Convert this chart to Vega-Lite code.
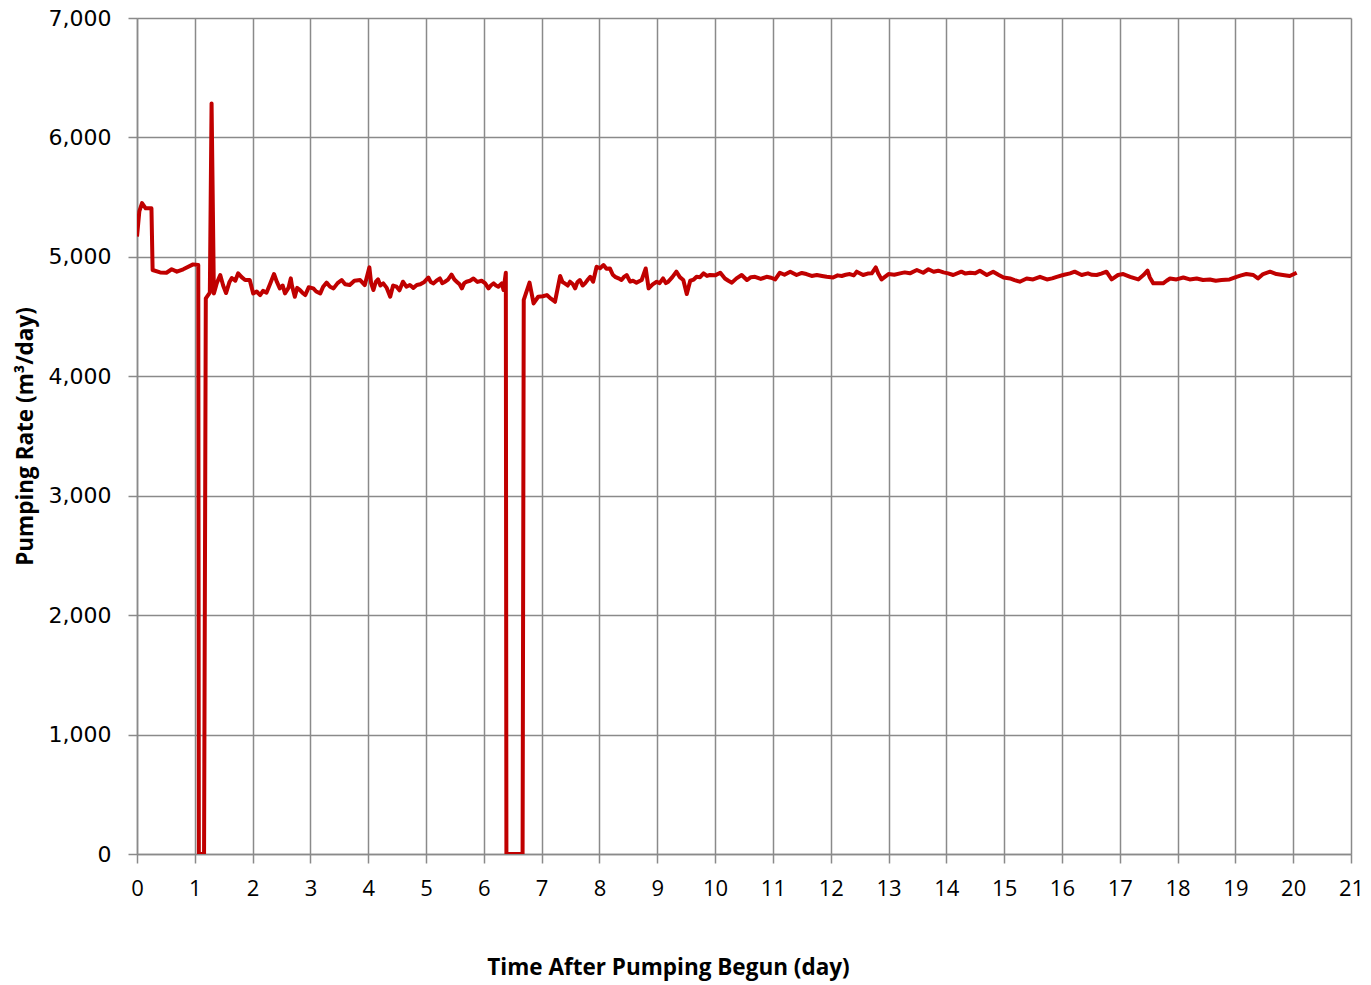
{
  "$schema": "https://vega.github.io/schema/vega-lite/v6.json",
  "autosize": "none",
  "padding": {"left": 137, "top": 18, "right": 20, "bottom": 131},
  "width": 1214,
  "height": 836,
  "background": "white",
  "config": {"view": {"stroke": null}},
  "data": {"values": [
    {"t":0,"q":5170},{"t":0.04,"q":5380},{"t":0.087,"q":5450},{"t":0.15,"q":5406},{"t":0.25,"q":5406},{"t":0.27,"q":4890},{"t":0.4,"q":4870},{"t":0.51,"q":4867},{"t":0.6,"q":4896},{"t":0.69,"q":4876},{"t":0.8,"q":4896},{"t":0.97,"q":4937},{"t":1.06,"q":4932},{"t":1.07,"q":0},{"t":1.16,"q":0},{"t":1.19,"q":4653},{"t":1.26,"q":4700},{"t":1.29,"q":6285},{"t":1.33,"q":4694},{"t":1.38,"q":4780},{"t":1.44,"q":4848},{"t":1.49,"q":4760},{"t":1.54,"q":4697},{"t":1.6,"q":4790},{"t":1.64,"q":4823},{"t":1.7,"q":4800},{"t":1.75,"q":4862},{"t":1.81,"q":4830},{"t":1.87,"q":4806},{"t":1.95,"q":4806},{"t":2.01,"q":4694},{"t":2.07,"q":4710},{"t":2.13,"q":4680},{"t":2.18,"q":4715},{"t":2.24,"q":4700},{"t":2.3,"q":4770},{"t":2.37,"q":4856},{"t":2.42,"q":4790},{"t":2.47,"q":4736},{"t":2.52,"q":4760},{"t":2.56,"q":4694},{"t":2.62,"q":4740},{"t":2.66,"q":4820},{"t":2.68,"q":4760},{"t":2.73,"q":4666},{"t":2.77,"q":4740},{"t":2.82,"q":4722},{"t":2.86,"q":4700},{"t":2.91,"q":4680},{"t":2.97,"q":4745},{"t":3.05,"q":4736},{"t":3.1,"q":4710},{"t":3.17,"q":4694},{"t":3.22,"q":4750},{"t":3.28,"q":4784},{"t":3.34,"q":4750},{"t":3.4,"q":4736},{"t":3.47,"q":4780},{"t":3.54,"q":4806},{"t":3.6,"q":4770},{"t":3.68,"q":4764},{"t":3.76,"q":4800},{"t":3.86,"q":4806},{"t":3.94,"q":4764},{"t":4.02,"q":4912},{"t":4.05,"q":4780},{"t":4.09,"q":4722},{"t":4.13,"q":4790},{"t":4.17,"q":4811},{"t":4.21,"q":4760},{"t":4.26,"q":4778},{"t":4.32,"q":4740},{"t":4.38,"q":4666},{"t":4.43,"q":4760},{"t":4.49,"q":4750},{"t":4.54,"q":4720},{"t":4.6,"q":4792},{"t":4.66,"q":4750},{"t":4.72,"q":4764},{"t":4.78,"q":4740},{"t":4.84,"q":4764},{"t":4.9,"q":4770},{"t":4.97,"q":4790},{"t":5.04,"q":4827},{"t":5.08,"q":4790},{"t":5.13,"q":4778},{"t":5.18,"q":4800},{"t":5.24,"q":4819},{"t":5.28,"q":4780},{"t":5.33,"q":4792},{"t":5.38,"q":4810},{"t":5.44,"q":4852},{"t":5.49,"q":4810},{"t":5.53,"q":4792},{"t":5.58,"q":4770},{"t":5.62,"q":4736},{"t":5.66,"q":4780},{"t":5.7,"q":4792},{"t":5.76,"q":4800},{"t":5.82,"q":4819},{"t":5.89,"q":4790},{"t":5.96,"q":4800},{"t":6.02,"q":4780},{"t":6.08,"q":4736},{"t":6.12,"q":4760},{"t":6.17,"q":4778},{"t":6.21,"q":4760},{"t":6.25,"q":4750},{"t":6.31,"q":4778},{"t":6.34,"q":4722},{"t":6.38,"q":4867},{"t":6.39,"q":0},{"t":6.67,"q":0},{"t":6.69,"q":4639},{"t":6.79,"q":4784},{"t":6.86,"q":4610},{"t":6.94,"q":4666},{"t":7.02,"q":4670},{"t":7.09,"q":4680},{"t":7.16,"q":4650},{"t":7.23,"q":4624},{"t":7.32,"q":4840},{"t":7.36,"q":4790},{"t":7.4,"q":4778},{"t":7.45,"q":4760},{"t":7.49,"q":4792},{"t":7.54,"q":4770},{"t":7.58,"q":4736},{"t":7.62,"q":4790},{"t":7.66,"q":4806},{"t":7.71,"q":4760},{"t":7.75,"q":4778},{"t":7.8,"q":4810},{"t":7.84,"q":4833},{"t":7.89,"q":4792},{"t":7.95,"q":4917},{"t":8.01,"q":4905},{"t":8.07,"q":4931},{"t":8.12,"q":4900},{"t":8.18,"q":4903},{"t":8.23,"q":4850},{"t":8.27,"q":4833},{"t":8.33,"q":4820},{"t":8.38,"q":4806},{"t":8.42,"q":4830},{"t":8.47,"q":4848},{"t":8.53,"q":4792},{"t":8.58,"q":4800},{"t":8.64,"q":4784},{"t":8.73,"q":4806},{"t":8.8,"q":4903},{"t":8.85,"q":4736},{"t":8.92,"q":4770},{"t":8.99,"q":4792},{"t":9.04,"q":4780},{"t":9.1,"q":4819},{"t":9.15,"q":4780},{"t":9.19,"q":4792},{"t":9.26,"q":4830},{"t":9.33,"q":4876},{"t":9.39,"q":4830},{"t":9.45,"q":4806},{"t":9.51,"q":4689},{"t":9.57,"q":4800},{"t":9.63,"q":4810},{"t":9.68,"q":4833},{"t":9.74,"q":4830},{"t":9.8,"q":4862},{"t":9.86,"q":4840},{"t":9.91,"q":4848},{"t":10.0,"q":4845},{"t":10.09,"q":4867},{"t":10.17,"q":4819},{"t":10.23,"q":4800},{"t":10.29,"q":4784},{"t":10.37,"q":4820},{"t":10.46,"q":4848},{"t":10.55,"q":4806},{"t":10.62,"q":4830},{"t":10.69,"q":4833},{"t":10.79,"q":4815},{"t":10.89,"q":4833},{"t":10.97,"q":4825},{"t":11.04,"q":4811},{"t":11.12,"q":4867},{"t":11.2,"q":4850},{"t":11.3,"q":4876},{"t":11.41,"q":4848},{"t":11.5,"q":4865},{"t":11.58,"q":4856},{"t":11.67,"q":4840},{"t":11.76,"q":4848},{"t":11.85,"q":4840},{"t":11.93,"q":4833},{"t":12.04,"q":4827},{"t":12.12,"q":4845},{"t":12.19,"q":4840},{"t":12.26,"q":4850},{"t":12.33,"q":4856},{"t":12.4,"q":4845},{"t":12.45,"q":4876},{"t":12.56,"q":4848},{"t":12.64,"q":4860},{"t":12.71,"q":4862},{"t":12.78,"q":4912},{"t":12.82,"q":4862},{"t":12.88,"q":4811},{"t":13.0,"q":4856},{"t":13.1,"q":4850},{"t":13.2,"q":4862},{"t":13.28,"q":4870},{"t":13.37,"q":4862},{"t":13.49,"q":4890},{"t":13.6,"q":4867},{"t":13.69,"q":4896},{"t":13.78,"q":4875},{"t":13.86,"q":4884},{"t":13.95,"q":4870},{"t":14.03,"q":4862},{"t":14.12,"q":4848},{"t":14.26,"q":4876},{"t":14.33,"q":4860},{"t":14.41,"q":4867},{"t":14.5,"q":4862},{"t":14.58,"q":4884},{"t":14.7,"q":4848},{"t":14.81,"q":4876},{"t":14.9,"q":4850},{"t":14.99,"q":4827},{"t":15.1,"q":4819},{"t":15.18,"q":4805},{"t":15.27,"q":4792},{"t":15.39,"q":4819},{"t":15.5,"q":4811},{"t":15.62,"q":4833},{"t":15.74,"q":4811},{"t":15.83,"q":4820},{"t":15.91,"q":4833},{"t":16.02,"q":4848},{"t":16.14,"q":4862},{"t":16.22,"q":4876},{"t":16.34,"q":4848},{"t":16.45,"q":4862},{"t":16.52,"q":4850},{"t":16.6,"q":4848},{"t":16.68,"q":4860},{"t":16.77,"q":4876},{"t":16.86,"q":4811},{"t":16.97,"q":4848},{"t":17.06,"q":4856},{"t":17.18,"q":4833},{"t":17.32,"q":4811},{"t":17.41,"q":4848},{"t":17.48,"q":4884},{"t":17.52,"q":4827},{"t":17.58,"q":4778},{"t":17.75,"q":4778},{"t":17.81,"q":4800},{"t":17.87,"q":4819},{"t":17.98,"q":4811},{"t":18.1,"q":4827},{"t":18.21,"q":4811},{"t":18.33,"q":4819},{"t":18.44,"q":4806},{"t":18.56,"q":4811},{"t":18.66,"q":4800},{"t":18.76,"q":4806},{"t":18.9,"q":4811},{"t":19.02,"q":4833},{"t":19.1,"q":4845},{"t":19.19,"q":4856},{"t":19.31,"q":4848},{"t":19.39,"q":4819},{"t":19.48,"q":4856},{"t":19.6,"q":4876},{"t":19.71,"q":4856},{"t":19.82,"q":4848},{"t":19.94,"q":4840},{"t":20.06,"q":4867}
  ]},
  "mark": {"type": "line", "color": "#c00000", "strokeWidth": 4, "strokeJoin": "round", "clip": true},
  "encoding": {
    "x": {
      "field": "t", "type": "quantitative",
      "scale": {"domain": [0, 21], "nice": false, "zero": false},
      "axis": {
        "values": [0,1,2,3,4,5,6,7,8,9,10,11,12,13,14,15,16,17,18,19,20,21],
        "title": "Time After Pumping Begun (day)",
        "titleFont": "Open Sans", "titleFontSize": 22.5, "titleFontWeight": "bold", "titleColor": "#000000",
        "titleX": 531, "titleY": 113, "titleBaseline": "middle", "titleAlign": "center",
        "labelFont": "Open Sans", "labelFontSize": 22, "labelColor": "#000000", "labelPadding": 15,
        "labelFlush": false,
        "grid": true, "gridColor": "#8a8a8a", "gridWidth": 1.5,
        "domainColor": "#8a8a8a", "domainWidth": 1.5,
        "tickColor": "#8a8a8a", "tickWidth": 1.5, "tickSize": 9
      }
    },
    "y": {
      "field": "q", "type": "quantitative",
      "scale": {"domain": [0, 7000], "nice": false},
      "axis": {
        "values": [0,1000,2000,3000,4000,5000,6000,7000],
        "format": ",d",
        "title": "Pumping Rate (m³/day)",
        "titleFont": "Open Sans", "titleFontSize": 22.5, "titleFontWeight": "bold", "titleColor": "#000000",
        "titleX": -112, "titleY": 418, "titleBaseline": "middle", "titleAngle": -90, "titleAlign": "center",
        "labelFont": "DejaVu Sans", "labelFontSize": 22, "labelColor": "#000000", "labelPadding": 17,
        "labelFlush": false,
        "grid": true, "gridColor": "#8a8a8a", "gridWidth": 1.5,
        "domainColor": "#8a8a8a", "domainWidth": 1.5,
        "tickColor": "#8a8a8a", "tickWidth": 1.5, "tickSize": 9
      }
    }
  }
}
